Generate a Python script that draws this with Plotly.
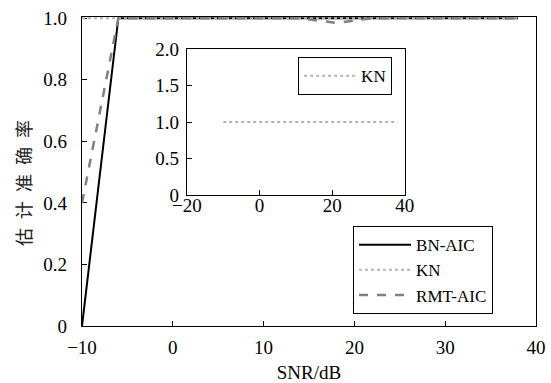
import plotly.graph_objects as go

snr = [-10, -6, -2, 2, 6, 10, 14, 18, 22, 26, 30, 34, 38]
bn_aic = [0, 1, 1, 1, 1, 1, 1, 1, 1, 1, 1, 1, 1]
kn = [1, 1, 1, 1, 1, 1, 1, 1, 1, 1, 1, 1, 1]
rmt_aic = [0.4, 1, 1, 1, 1, 1, 1, 0.985, 1, 1, 1, 1, 1]

x_ticks = [-10, 0, 10, 20, 30, 40]
y_ticks = [0, 0.2, 0.4, 0.6, 0.8, 1.0]
y_tick_text = ["0", "0.2", "0.4", "0.6", "0.8", "1.0"]
inset_x_ticks = [-20, 0, 20, 40]
inset_y_ticks = [0, 0.5, 1.0, 1.5, 2.0]
inset_y_text = ["0", "0.5", "1.0", "1.5", "2.0"]

FONT = "Liberation Serif, Times New Roman, serif"
FS = 19
LFS = 17

fig = go.Figure()
fig.add_trace(go.Scatter(x=snr, y=bn_aic, mode="lines", name="BN-AIC",
                         line=dict(color="black", width=2), legend="legend"))
fig.add_trace(go.Scatter(x=snr, y=kn, mode="lines", name="KN",
                         line=dict(color="#b4b4b4", width=2, dash="dot"), legend="legend"))
fig.add_trace(go.Scatter(x=snr, y=rmt_aic, mode="lines", name="RMT-AIC",
                         line=dict(color="#808080", width=2.5, dash="dash"), legend="legend"))
# inset
fig.add_trace(go.Scatter(x=snr, y=kn, mode="lines", name="KN", xaxis="x2", yaxis="y2",
                         line=dict(color="#b4b4b4", width=2, dash="dot"), legend="legend2"))

axis_common = dict(showline=True, linecolor="black", linewidth=1.2, mirror=True,
                   ticks="inside", tickcolor="black", tickwidth=1, ticklen=5,
                   showgrid=False, zeroline=False, automargin=False,
                   tickfont=dict(family=FONT, size=FS, color="black"))

fig.update_layout(
    width=551, height=383,
    margin=dict(l=82, r=15, t=17, b=57, autoexpand=False),
    plot_bgcolor="white", paper_bgcolor="white",
    font=dict(family=FONT, size=FS, color="black"),
    xaxis=dict(**axis_common, range=[-10, 40], tickvals=x_ticks,
               ticklabelstandoff=4, layer="below traces",
               title=dict(text="SNR/dB", font=dict(family=FONT, size=FS), standoff=9)),
    yaxis=dict(**axis_common, range=[0, 1.004], tickvals=y_ticks, ticktext=y_tick_text,
               ticklabelstandoff=10, layer="below traces"),
    xaxis2=dict(**axis_common, domain=[0.231, 0.711], anchor="y2", range=[-20, 40],
                tickvals=inset_x_ticks, ticklabelstandoff=-7),
    yaxis2=dict(**axis_common, domain=[0.424, 0.896], anchor="x2", range=[0, 2],
                tickvals=inset_y_ticks, ticktext=inset_y_text, ticklabelstandoff=3),
    legend=dict(x=0.597, y=0.323, xanchor="left", yanchor="top",
                bgcolor="white", bordercolor="black", borderwidth=1,
                font=dict(family=FONT, size=LFS), itemwidth=52, tracegroupgap=0),
    legend2=dict(x=0.476, y=0.87, xanchor="left", yanchor="top",
                 bgcolor="white", bordercolor="black", borderwidth=1,
                 font=dict(family=FONT, size=LFS), itemwidth=52),
    showlegend=True,
)

fig.add_annotation(text="估\u2002计\u2002准\u2002确\u2002率", textangle=-90,
                   xref="paper", yref="paper", x=-0.13, y=0.463,
                   xanchor="center", yanchor="middle", showarrow=False,
                   font=dict(family="Noto Sans CJK SC", size=18, color="#222"))

fig.write_html("out.html")
